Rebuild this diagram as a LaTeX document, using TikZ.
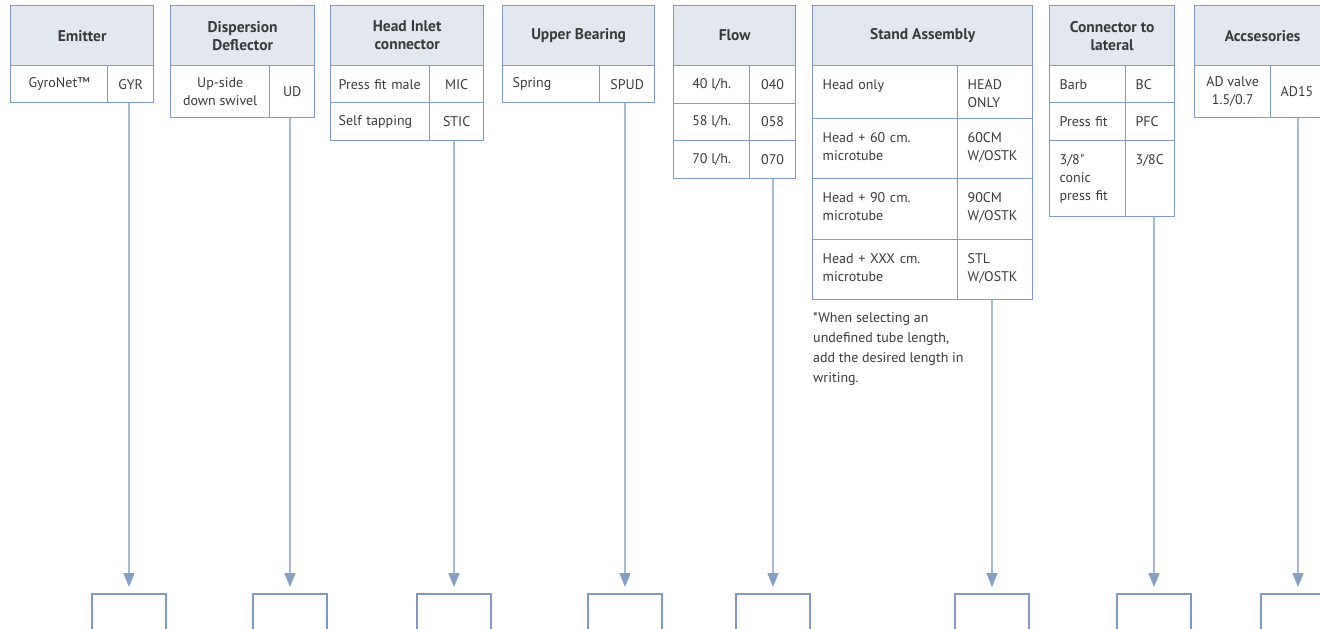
\documentclass[tikz,border=0pt]{standalone}
\usepackage{fontspec}
\setmainfont{PT Sans}[Ligatures=TeXOff]
\usetikzlibrary{arrows.meta}
\definecolor{tblue}{HTML}{7E9AC2}
\definecolor{hfill}{HTML}{E2E7F0}
\definecolor{lnkblue}{HTML}{A6B9D5}
\definecolor{tipblue}{HTML}{849EC5}
\definecolor{inkgray}{HTML}{3A3A3A}
\begin{document}
\begin{tikzpicture}[x=1pt,y=-1pt,
	font=\fontsize{14}{18}\selectfont,
	hdr/.style={draw=tblue,fill=hfill,line width=1.3pt,anchor=north west,inner sep=0pt,minimum height=60,align=center,text=inkgray,font=\fontsize{15.5}{18}\selectfont\bfseries},
	cell/.style={draw=tblue,line width=1.3pt,anchor=north west,inner sep=0pt,align=center,text=inkgray},
	lcell/.style={cell,align=left,inner xsep=10pt,text width=#1},
	topcell/.style={inner ysep=14pt,text height=10pt,text depth=#1},
	bbox/.style={draw=tblue,line width=2pt,anchor=north,minimum width=74,minimum height=60},
	link/.style={draw=lnkblue,line width=1.3pt,-{Triangle[width=11pt,length=14pt,color=tipblue]},shorten >=6pt}]
	\useasboundingbox (0,0) rectangle (1320,629);
	%	\draw[help lines,step=50] (0,0) grid (1320,629);
	% emitter
	\node[hdr,minimum width=143] (emh) at (10,5) {Emitter};
	\node[cell,minimum width=97,minimum height=37] (emd1) at (10,65) {GyroNet™};
	\node[cell,minimum width=46,minimum height=37] (emc1) at (107,65) {GYR};
	% dispersion deflector
	\node[hdr,minimum width=144] (ddh) at (170,5) {Dispersion\\Deflector};
	\node[cell,minimum width=99,minimum height=52] (ddd1) at (170,65) {Up-side\\down swivel};
	\node[cell,minimum width=45,minimum height=52] (ddc1) at (269,65) {UD};
	% head inlet connector
	\node[hdr,minimum width=153] (hih) at (330,5) {Head Inlet\\connector};
	\node[lcell=83,inner xsep=8pt,minimum height=37] (hid1) at (330,65) {Press fit male};
	\node[cell,minimum width=54,minimum height=37] (hic1) at (429,65) {MIC};
	\node[lcell=83,inner xsep=8pt,minimum height=38] (hid2) at (330,102) {Self tapping};
	\node[cell,minimum width=54,minimum height=38] (hic2) at (429,102) {STIC};
	% upper bearing
	\node[hdr,minimum width=152] (ubh) at (502,5) {Upper Bearing};
	\node[lcell=77,minimum height=37] (ubd1) at (502,65) {Spring};
	\node[cell,minimum width=55,minimum height=37] (ubc1) at (599,65) {SPUD};
	% flow
	\node[hdr,minimum width=122] (flh) at (673,5) {Flow};
	\foreach \r/\y/\v in {1/65/40,2/102.5/58,3/140/70}{
		\node[cell,minimum width=76,minimum height=37.5] (fld\r) at (673,\y) {\v\ l/h.};
		\node[cell,minimum width=46,minimum height=37.5] (flc\r) at (749,\y) {0\v};
	}
	% stand assembly
	\node[hdr,minimum width=220] (sah) at (812,5) {Stand Assembly};
	\node[lcell=125,topcell=15,minimum height=53] (sad1) at (812,65) {Head only};
	\node[lcell=55,topcell=15,minimum height=53] (sac1) at (957,65) {HEAD\\ONLY};
	\node[lcell=125,topcell=22,minimum height=60] (sad2) at (812,118) {Head + 60 cm.\\microtube};
	\node[lcell=55,topcell=22,minimum height=60] (sac2) at (957,118) {60CM\\W/OSTK};
	\node[lcell=125,topcell=23,minimum height=61] (sad3) at (812,178) {Head + 90 cm.\\microtube};
	\node[lcell=55,topcell=23,minimum height=61] (sac3) at (957,178) {90CM\\W/OSTK};
	\node[lcell=125,topcell=22,minimum height=60] (sad4) at (812,239) {Head + XXX cm.\\microtube};
	\node[lcell=55,topcell=22,minimum height=60] (sac4) at (957,239) {STL\\W/OSTK};
	\node[anchor=north west,align=left,inner sep=0pt,text=inkgray,font=\fontsize{14}{20}\selectfont] (note) at (813,312) {*When selecting an\\undefined tube length,\\add the desired length in\\writing.};
	% connector to lateral
	\node[hdr,minimum width=125] (clh) at (1049,5) {Connector to\\lateral};
	\node[lcell=56,minimum height=37] (cld1) at (1049,65) {Barb};
	\node[lcell=29,minimum height=37] (clc1) at (1125,65) {BC};
	\node[lcell=56,minimum height=38] (cld2) at (1049,102) {Press fit};
	\node[lcell=29,minimum height=38] (clc2) at (1125,102) {PFC};
	\node[lcell=56,topcell=38,minimum height=76] (cld3) at (1049,140) {3/8"\\conic\\press fit};
	\node[lcell=29,topcell=38,minimum height=76] (clc3) at (1125,140) {3/8C};
	% accsesories
	\node[hdr,minimum width=136] (ach) at (1194,5) {Accsesories};
	\node[cell,minimum width=76,minimum height=52] (acd1) at (1194,65) {AD valve\\1.5/0.7};
	\node[lcell=40,minimum height=52] (acc1) at (1270,65) {AD15};
	% boxes below
	\foreach \k/\x [count=\i] in {emc1/129,ddc1/290,hic2/454,ubc1/625,flc3/773,sac4/992,clc3/1154,acc1/1298}{
		\node[bbox] (box\i) at (\x,593) {};
		\draw[link] (\k.south -| box\i.north) -- (box\i.north);
	}
\end{tikzpicture}
\end{document}
